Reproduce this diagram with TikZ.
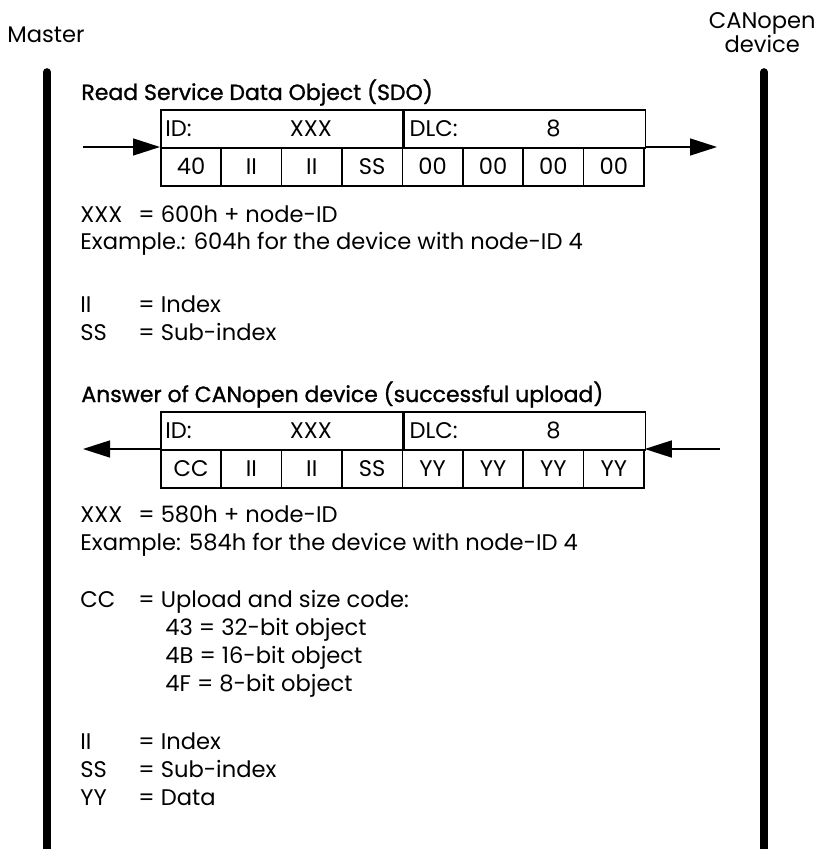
\documentclass[tikz,border=0pt]{standalone}
\usepackage{fontspec}
\setmainfont{Poppins}
\newfontfamily\headfont[FakeBold=1.2]{Poppins}
\usetikzlibrary{positioning,arrows.meta}

\begin{document}
\begin{tikzpicture}[
x=0.5pt, y=-0.5pt,
font=\fontsize{11.3}{13}\selectfont,
lifeline/.style={line width=3.8pt, line cap=round},
cell/.style={draw, line width=0.8pt, minimum width=30.2pt, minimum height=19pt, inner sep=0pt, anchor=north west, text height=8pt, text depth=0pt},
head/.style={cell, minimum width=120.8pt},
field/.style={inner sep=0pt, text height=8pt, text depth=0pt},
msg/.style={-{Triangle[length=13.5pt, width=8.5pt]}, line width=0.75pt},
txt/.style={anchor=base west, inner sep=0pt},
heading/.style={txt, font=\headfont\fontsize{11}{13}\selectfont}
]
\useasboundingbox (0,0) rectangle (819,849);

% parties and their lifelines
\node[anchor=base, inner sep=0pt] (master) at (46,43) {Master};
\node[anchor=base east, inner sep=0pt] (dev1) at (816,29) {CANopen};
\node[anchor=base, inner sep=0pt] (dev2) at (dev1.base |- 0,53) {device};
\coordinate (mtop) at (47,72);
\coordinate (mbot) at (47,870);
\coordinate (dtop) at (764,72);
\coordinate (dbot) at (764,870);
\draw[lifeline] (mtop) -- (mbot);
\draw[lifeline] (dtop) -- (dbot);

% request
\node[heading] (req) at (81,100) {Read Service Data Object (SDO)};
\node[head] (id1) at (160,109) {};
\node[head, right=0pt of id1] (dlc1) {};
\node[field, anchor=west] (idl1) at ([xshift=2.5pt]id1.west) {ID:};
\node[field] (idv1) at ([xshift=14.6pt]id1.center) {XXX};
\node[field, anchor=west] (dlcl1) at ([xshift=3pt]dlc1.west) {DLC:};
\node[field] (dlcv1) at ([xshift=14.3pt]dlc1.center) {8};
\foreach \b [count=\i] in {40,II,II,SS,00,00,00,00}
  \node[cell] (ra\i) at ({160+60.4*(\i-1)},147) {\b};
\coordinate (reqin) at (83,147);
\coordinate (reqout) at (717,147);
\draw[msg] (reqin) -- (ra1.north west);
\draw[msg] (ra8.north east) -- (reqout);

\node[txt] (xa) at (80,223) {XXX};
\node[txt] at (138,223) {= 600h + node-ID};
\node[txt] (exa) at (80,250) {Example.: 604h for the device with node-ID 4};
\node[txt] at (80,313) {II};
\node[txt] at (138,313) {= Index};
\node[txt] at (80,341) {SS};
\node[txt] at (138,341) {= Sub-index};

% answer
\node[heading] (ans) at (81,402) {Answer of CANopen device (successful upload)};
\node[head] (id2) at (160,411) {};
\node[head, right=0pt of id2] (dlc2) {};
\node[field, anchor=west] (idl2) at ([xshift=2.5pt]id2.west) {ID:};
\node[field] (idv2) at ([xshift=14.6pt]id2.center) {XXX};
\node[field, anchor=west] (dlcl2) at ([xshift=3pt]dlc2.west) {DLC:};
\node[field] (dlcv2) at ([xshift=14.3pt]dlc2.center) {8};
\foreach \b [count=\i] in {CC,II,II,SS,YY,YY,YY,YY}
  \node[cell] (rb\i) at ({160+60.4*(\i-1)},449) {\b};
\coordinate (ansin) at (720,449);
\coordinate (ansout) at (83,449);
\draw[msg] (ansin) -- (rb8.north east);
\draw[msg] (rb1.north west) -- (ansout);

\node[txt] at (80,522) {XXX};
\node[txt] at (138,522) {= 580h + node-ID};
\node[txt] at (80,550) {Example: 584h for the device with node-ID 4};
\node[txt] at (80,607) {CC};
\node[txt] at (138,607) {= Upload and size code:};
\node[txt] at (165,635) {43 = 32-bit object};
\node[txt] at (165,663) {4B = 16-bit object};
\node[txt] at (165,691) {4F = 8-bit object};
\node[txt] at (80,749) {II};
\node[txt] at (138,749) {= Index};
\node[txt] at (80,777) {SS};
\node[txt] at (138,777) {= Sub-index};
\node[txt] at (80,805) {YY};
\node[txt] at (138,805) {= Data};
\end{tikzpicture}
\end{document}
